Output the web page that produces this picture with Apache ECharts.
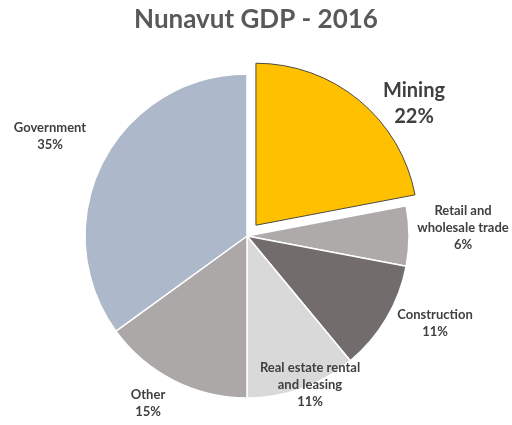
<!DOCTYPE html>
<html>
<head>
<meta charset="utf-8">
<script src="https://cdn.jsdelivr.net/npm/echarts@6/dist/echarts.min.js"></script>
<style>
  html, body { margin: 0; padding: 0; background: #fff; }
  #main { width: 512px; height: 425px; }
</style>
</head>
<body>
<div id="main"></div>
<script>
// 数据
const sectors = ['Mining', 'Retail and\nwholesale trade', 'Construction', 'Real estate rental\nand leasing', 'Other', 'Government']
const shares = [22, 6, 11, 11, 15, 35]
const colors = ['#FFC000', '#ADAAA9', '#726D6C', '#D9D9D9', '#ACA8A7', '#ADB9CA']
// 标签位置（样式）
const labelPos = [[414, 104], [463, 228], [435, 323], [310, 385], [148, 403], [50, 136]]

const explodeIdx = 0 // 分离出来的扇区 (Mining)
const center = [247, 236]
const offset = 14

// 分离扇区的中心偏移
const total = shares.reduce((a, b) => a + b, 0)
const before = shares.slice(0, explodeIdx).reduce((a, b) => a + b, 0)
const midAngle = (before + shares[explodeIdx] / 2) / total * 2 * Math.PI
const explodeCenter = [center[0] + offset * Math.sin(midAngle), center[1] - offset * Math.cos(midAngle)]

const hidden = { color: 'rgba(0,0,0,0)', borderWidth: 0 }

const myChart = echarts.init(document.getElementById('main'))

// 主饼图：其余扇区 + 所有标签
const mainData = sectors.map((name, i) => ({
  name,
  value: shares[i],
  itemStyle: i === explodeIdx ? hidden : { color: colors[i], borderColor: '#fff', borderWidth: 1.5 },
  label: i === explodeIdx ? { fontSize: 20, lineHeight: 26 } : {}
}))

// 分离扇区
const explodeData = sectors.map((name, i) => ({
  name,
  value: shares[i],
  itemStyle: i === explodeIdx ? { color: colors[i], borderColor: '#4d4a3c', borderWidth: 1 } : hidden
}))

myChart.setOption({
  animation: false,
  title: {
    text: 'Nunavut GDP - 2016',
    left: 'center',
    top: 2,
    textStyle: { fontFamily: 'Lato', fontSize: 26, fontWeight: 'bold', color: '#595959' }
  },
  series: [{
    type: 'pie',
    center: center,
    radius: 162,
    startAngle: 90,
    clockwise: true,
    data: mainData,
    label: {
      show: true,
      formatter: '{b}\n{d}%',
      fontFamily: 'Lato',
      fontSize: 13,
      lineHeight: 17,
      fontWeight: 'bold',
      color: '#404040',
      align: 'center',
      overflow: 'none'
    },
    labelLine: { show: false },
    labelLayout: (params) => ({
      x: labelPos[params.dataIndex][0],
      y: labelPos[params.dataIndex][1],
      align: 'center',
      verticalAlign: 'middle'
    }),
    emphasis: { disabled: true }
  }, {
    type: 'pie',
    center: explodeCenter,
    radius: 162,
    startAngle: 90,
    clockwise: true,
    silent: true,
    data: explodeData,
    label: { show: false },
    labelLine: { show: false },
    emphasis: { disabled: true }
  }]
})
</script>
</body>
</html>
